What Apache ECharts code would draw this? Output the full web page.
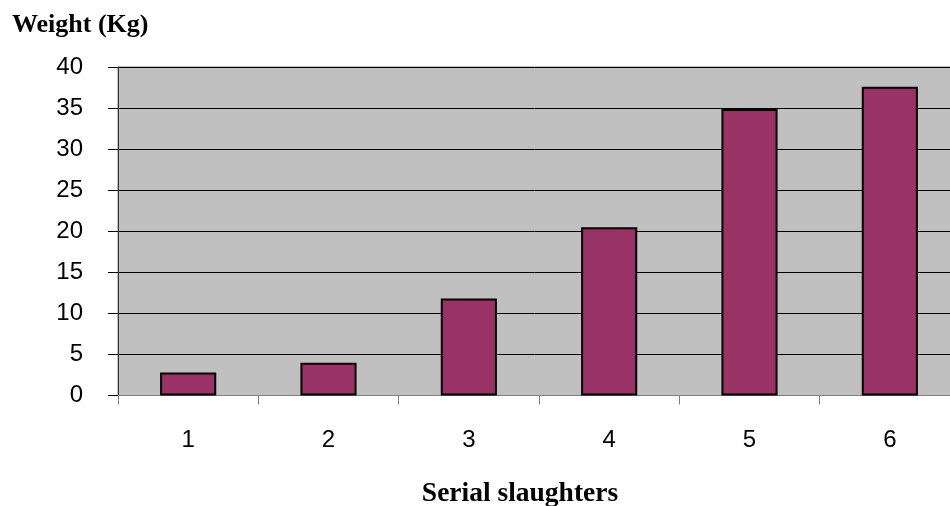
<!DOCTYPE html>
<html>
<head>
<meta charset="utf-8">
<script src="https://cdn.jsdelivr.net/npm/echarts@6/dist/echarts.min.js"></script>
<style>
  html, body { margin: 0; padding: 0; background: #fff; }
  #chart { width: 950px; height: 506px; }
</style>
</head>
<body>
<div id="chart"></div>
<script>
// Weight per serial slaughter
const categories = ['1', '2', '3', '4', '5', '6'];
const weights = [2.8, 4.0, 11.8, 20.5, 34.9, 37.6];
const yTicks = [0, 5, 10, 15, 20, 25, 30, 35, 40];

const chart = echarts.init(document.getElementById('chart'), null, { renderer: 'canvas' });

chart.setOption({
  animation: false,
  backgroundColor: '#ffffff',
  title: [
    {
      text: 'Weight (Kg)',
      left: 7, top: 7,
      textStyle: { fontFamily: 'Liberation Serif', fontWeight: 'bold', fontSize: 26, color: '#000' }
    },
    {
      text: 'Serial slaughters',
      left: 515, top: 475, textAlign: 'center',
      textStyle: { fontFamily: 'Liberation Serif', fontWeight: 'bold', fontSize: 27.5, color: '#000' }
    }
  ],
  grid: {
    left: 118, top: 67, width: 842, bottom: 110.5,
    outerBoundsMode: 'none',
    containLabel: false,
    show: true, backgroundColor: '#c0c0c0', borderColor: '#808080', borderWidth: 1
  },
  xAxis: {
    type: 'category',
    data: categories,
    boundaryGap: true,
    axisLine: { show: true, lineStyle: { color: '#808080', width: 1 } },
    axisTick: { show: true, length: 9, lineStyle: { color: '#808080' } },
    axisLabel: { margin: 33, fontFamily: 'Liberation Sans', fontSize: 24, color: '#000' },
    splitLine: { show: false }
  },
  yAxis: {
    type: 'value',
    min: yTicks[0],
    max: yTicks[yTicks.length - 1],
    interval: yTicks[1] - yTicks[0],
    axisLine: { show: true, lineStyle: { color: '#333', width: 1 } },
    axisTick: { show: true, length: 10, lineStyle: { color: '#000' } },
    axisLabel: { margin: 35, fontFamily: 'Liberation Sans', fontSize: 24, color: '#000' },
    splitLine: { show: true, lineStyle: { color: '#000', width: 1 } }
  },
  series: [{
    type: 'bar',
    data: weights,
    barWidth: '40%',
    itemStyle: { color: '#993366', borderColor: '#000', borderWidth: 2 }
  }]
});
</script>
</body>
</html>
